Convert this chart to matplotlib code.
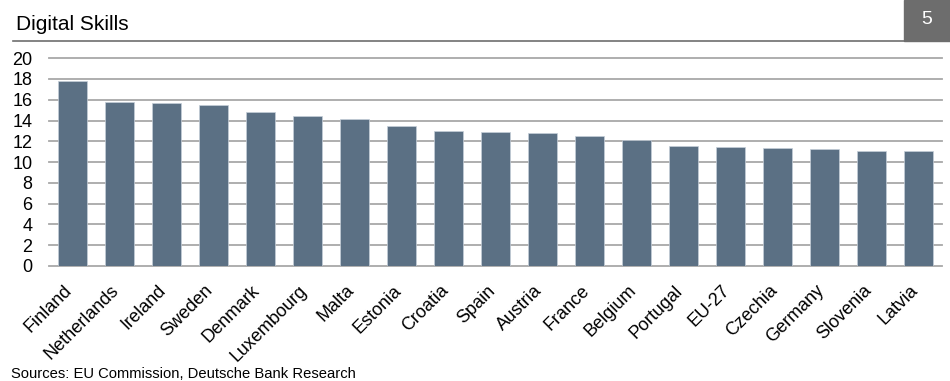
import matplotlib
matplotlib.use("Agg")
import matplotlib.pyplot as plt
from matplotlib.lines import Line2D
from matplotlib.patches import Rectangle
from matplotlib.transforms import offset_copy

plt.rcParams["font.family"] = ["Liberation Sans", "DejaVu Sans"]

countries = ["Finland", "Netherlands", "Ireland", "Sweden", "Denmark", "Luxembourg",
             "Malta", "Estonia", "Croatia", "Spain", "Austria", "France", "Belgium",
             "Portugal", "EU-27", "Czechia", "Germany", "Slovenia", "Latvia"]
scores = [17.83, 15.78, 15.66, 15.50, 14.79, 14.44, 14.15, 13.50, 12.96, 12.87,
          12.77, 12.48, 12.16, 11.52, 11.42, 11.39, 11.23, 11.07, 11.04]
yticks = list(range(0, 21, 2))

BAR = "#5b7084"
GRID = "#a8a8a8"
W, H = 950, 381

fig = plt.figure(figsize=(W / 100, H / 100), dpi=100)
ax = fig.add_axes([49 / W, 1 - 266 / H, 893 / W, (266 - 58.2) / H])

x = range(len(countries))
ax.bar(x, scores, width=0.62, color=BAR, edgecolor="#c5ced8", linewidth=0.5, zorder=3)

for t in yticks:
    ax.axhline(t, color=GRID, lw=1.3, zorder=1, clip_on=False)

ax.set_xlim(-0.5, len(countries) - 0.5)
ax.set_ylim(0, 20)
ax.set_yticks(yticks)
ax.set_yticklabels([str(t) for t in yticks], fontsize=13)
ax.tick_params(axis="y", length=0, pad=12)
ax.set_xticks(list(x))
ax.set_xticklabels([])
ax.tick_params(axis="x", length=0)
for s in ax.spines.values():
    s.set_visible(False)

# rotated category labels, right edge just past each bar centre
lab_tr = offset_copy(ax.get_xaxis_transform(), fig=fig, x=3, y=-16, units="dots")
for i, name in enumerate(countries):
    ax.text(i, 0, name, transform=lab_tr, rotation=45, ha="right", va="top",
            fontsize=13, color="#000000")

# header: title, rule and page number box
fig.text(16 / W, 1 - 30 / H, "Digital Skills", fontsize=15, ha="left", va="baseline")
fig.add_artist(Line2D([13 / W, 1], [1 - 41 / H, 1 - 41 / H], color="#6e6e6e", lw=1.2))
fig.add_artist(Rectangle((904 / W, 1 - 41 / H), 46 / W, 41 / H,
                         transform=fig.transFigure, color="#6d6d6d", zorder=5))
fig.text(927 / W, 1 - 20 / H, "5", fontsize=14, color="white", ha="center", va="center",
         zorder=6)

fig.text(11 / W, 1 - 378 / H, "Sources: EU Commission, Deutsche Bank Research",
         fontsize=10.6, ha="left", va="baseline")

fig.savefig("out.png", dpi=100)
